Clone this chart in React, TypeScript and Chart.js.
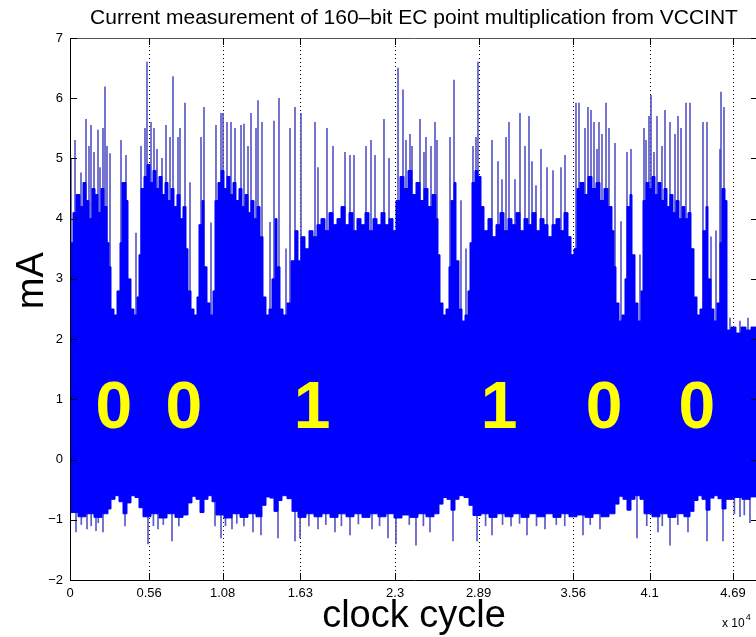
import React, { useEffect, useRef } from 'react';
import { Chart, registerables } from 'chart.js';

Chart.register(...registerables);

const FONT = "'Liberation Sans', Arial, Helvetica, sans-serif";

const TITLE = 'Current measurement of 160–bit EC point multiplication from VCCINT';
const X_LABEL = 'clock cycle';
const Y_LABEL = 'mA';
const X_EXPONENT = ['x 10', '4'];

const X_MAX = 48670;
const X_TICKS = [0, 5600, 10800, 16300, 23000, 28900, 35600, 41000, 46900];
const X_TICK_LABELS = ['0', '0.56', '1.08', '1.63', '2.3', '2.89', '3.56', '4.1', '4.69'];
const Y_TICKS = [-2, -1, 0, 1, 2, 3, 4, 5, 6, 7];
const Y_TICK_LABELS = ['−2', '−1', '0', '1', '2', '3', '4', '5', '6', '7'];

// upper edge of the dense current trace (clock cycle, mA)
const UPPER_ENVELOPE: [number, number][] = [
  [0, 3.6], [212, 4.1], [424, 4.4], [707, 4.2], [920, 4.6], [1132, 4.3], [1344, 4.0], [1556, 4.5], [1769, 4.4], [1981, 4.1], [2193, 4.5], [2405, 4.2], [2617, 3.6], [2759, 3.2],
  [2900, 2.5], [3113, 2.4], [3325, 2.8], [3537, 3.6], [3678, 4.6], [3961, 4.3], [4103, 3.0], [4315, 2.5], [4527, 2.4], [4740, 2.7], [4881, 3.4],
  [5023, 4.5], [5235, 4.7], [5447, 4.9], [5659, 4.6], [5871, 4.8], [6084, 4.5], [6296, 4.7], [6508, 4.4], [6720, 4.6], [6933, 4.3], [7145, 4.5], [7357, 4.2], [7569, 4.4], [7781, 4.0], [7994, 4.2], [8206, 3.5],
  [8347, 2.8], [8560, 2.5], [8772, 2.4], [8984, 2.7], [9125, 3.9], [9338, 4.3], [9479, 3.2], [9691, 2.6], [9904, 2.4], [10116, 2.8],
  [10257, 4.3], [10470, 4.6], [10682, 4.8], [10894, 4.5], [11106, 4.7], [11318, 4.4], [11531, 4.6], [11743, 4.3], [11955, 4.5], [12167, 4.2], [12380, 4.4], [12592, 4.1], [12804, 4.3], [13016, 4.0], [13228, 4.2], [13441, 3.7],
  [13653, 2.7], [13865, 2.4], [14077, 2.5], [14289, 3.0], [14502, 4.0], [14643, 3.2], [14855, 2.5], [15068, 2.4], [15351, 2.6], [15634, 3.3], [15917, 3.8], [16129, 3.3],
  [16341, 3.7], [16624, 3.5], [16907, 3.8], [17190, 3.7], [17473, 3.9], [17756, 4.0], [18039, 3.8], [18322, 4.1], [18605, 3.9], [18888, 4.0], [19171, 4.2], [19454, 3.9], [19737, 4.1], [20019, 3.8], [20302, 4.0], [20585, 3.9], [20868, 4.1], [21151, 3.8], [21434, 4.0], [21717, 3.9], [22000, 4.1], [22283, 3.9], [22566, 4.0], [22849, 3.8],
  [23061, 4.3], [23344, 4.7], [23627, 4.5], [23910, 4.8], [24193, 4.4], [24476, 4.6], [24759, 4.3], [25042, 4.5], [25325, 4.2], [25608, 4.4], [25891, 4.0], [26032, 3.4],
  [26174, 2.6], [26386, 2.4], [26598, 2.5], [26810, 3.2], [26952, 4.3], [27164, 4.6], [27306, 3.3], [27518, 2.5], [27730, 2.3], [27942, 2.4], [28155, 2.8], [28296, 3.6],
  [28437, 4.6], [28650, 4.8], [28862, 4.7], [29074, 4.2], [29286, 3.8], [29569, 4.0], [29852, 3.7], [30135, 3.9], [30418, 4.1], [30701, 3.8], [30984, 4.0], [31267, 3.9], [31550, 4.1], [31833, 3.8], [32116, 4.0], [32399, 3.9], [32682, 4.1], [32965, 3.8], [33248, 4.0], [33531, 3.9], [33814, 3.7], [34097, 3.9], [34380, 4.0], [34663, 3.8], [34946, 4.1], [35229, 3.7], [35441, 3.4], [35653, 3.5],
  [35865, 4.5], [36077, 4.6], [36360, 4.4], [36643, 4.7], [36926, 4.5], [37209, 4.6], [37492, 4.3], [37775, 4.5], [38058, 4.2], [38341, 3.8], [38483, 3.2],
  [38624, 2.6], [38836, 2.3], [39048, 2.4], [39261, 3.0], [39402, 4.2], [39614, 4.4], [39756, 3.4], [39968, 2.6], [40180, 2.3], [40393, 2.8],
  [40534, 4.3], [40746, 4.6], [40958, 4.5], [41171, 4.7], [41383, 4.4], [41595, 4.6], [41807, 4.3], [42020, 4.5], [42232, 4.2], [42444, 4.4], [42656, 4.1], [42868, 4.3], [43081, 4.0], [43293, 4.2], [43505, 4.0], [43717, 4.1], [43930, 3.5],
  [44142, 2.7], [44354, 2.4], [44566, 2.5], [44778, 3.8], [44991, 4.2], [45132, 3.0], [45344, 2.5], [45557, 2.3], [45769, 2.6], [45981, 3.6], [46122, 4.5], [46335, 4.3],
  [46476, 2.15], [46759, 2.2], [47113, 2.1], [47467, 2.2], [47820, 2.15], [48174, 2.2], [48670, 2.1],
];

// lower edge of the dense current trace (clock cycle, mA)
const LOWER_ENVELOPE: [number, number][] = [
  [0, -0.88], [566, -0.95], [1132, -0.9], [1698, -0.96], [2264, -0.9], [2688, -0.82], [2900, -0.66], [3183, -0.6], [3466, -0.7], [3749, -0.9], [4032, -0.72], [4315, -0.6], [4598, -0.63], [4881, -0.8],
  [5164, -0.95], [5730, -0.9], [6296, -0.97], [6862, -0.9], [7428, -0.96], [7994, -0.92], [8347, -0.72], [8630, -0.61], [8913, -0.66], [9196, -0.88], [9479, -0.66], [9762, -0.6], [10045, -0.7],
  [10328, -0.92], [10894, -0.97], [11460, -0.9], [12026, -0.96], [12592, -0.9], [13158, -0.95], [13582, -0.76], [13865, -0.62], [14148, -0.64], [14431, -0.86], [14714, -0.68], [14997, -0.6], [15351, -0.65], [15704, -0.86],
  [16129, -0.96], [16695, -0.9], [17261, -0.95], [17826, -0.9], [18392, -0.96], [18958, -0.9], [19524, -0.95], [20090, -0.9], [20656, -0.96], [21222, -0.9], [21788, -0.95], [22354, -0.9], [22920, -0.97], [23486, -0.92], [24052, -0.96], [24618, -0.9], [25183, -0.95], [25749, -0.9],
  [26103, -0.74], [26386, -0.63], [26669, -0.66], [26952, -0.84], [27235, -0.66], [27518, -0.6], [27872, -0.63], [28225, -0.76],
  [28508, -0.93], [29074, -0.9], [29640, -0.96], [30206, -0.9], [30772, -0.95], [31338, -0.9], [31904, -0.96], [32470, -0.9], [33036, -0.95], [33602, -0.9], [34167, -0.96], [34733, -0.9], [35299, -0.95], [35865, -0.92], [36431, -0.96], [36997, -0.9], [37563, -0.95], [38129, -0.9],
  [38553, -0.74], [38836, -0.61], [39119, -0.66], [39402, -0.84], [39685, -0.66], [39968, -0.6], [40322, -0.66],
  [40605, -0.9], [41171, -0.95], [41737, -0.9], [42303, -0.96], [42868, -0.9], [43434, -0.95], [43859, -0.86],
  [44142, -0.68], [44425, -0.6], [44708, -0.66], [44991, -0.84], [45274, -0.64], [45557, -0.6], [45840, -0.65], [46122, -0.82],
  [46405, -0.66], [46971, -0.63], [47537, -0.66], [48103, -0.62], [48670, -0.64],
];

// isolated upward current peaks (clock cycle, peak mA)
const PEAKS: [number, number][] = [
  [71, 5.0], [354, 5.3], [778, 4.76], [1132, 5.65], [1344, 5.2], [1486, 5.55], [1698, 5.1], [1981, 5.47], [2122, 4.85], [2334, 5.5], [2476, 6.19], [2617, 5.2], [2830, 5.08],
  [3608, 5.3], [3961, 5.05], [4669, 3.76], [5023, 5.2], [5306, 5.5], [5447, 6.6], [5730, 5.6], [5942, 5.5], [6154, 5.15], [6508, 5.0], [6791, 5.55], [7074, 5.35], [7286, 6.36], [7640, 5.35], [7781, 5.5], [8135, 5.92],
  [8489, 4.6], [9267, 5.35], [9479, 5.85], [9974, 3.93], [10328, 5.55], [10682, 5.75], [10823, 5.75], [11106, 5.6], [11389, 5.6], [11672, 5.5], [12097, 5.55], [12309, 5.57], [12592, 5.2], [12804, 5.75], [13158, 5.5], [13299, 5.96], [13582, 5.6],
  [14148, 3.94], [14431, 5.62], [14785, 6.0], [15280, 3.5], [15563, 5.5], [15917, 5.85], [16341, 5.75], [17331, 5.6], [17544, 4.85], [18180, 5.5], [18605, 5.2], [19454, 5.1], [19807, 5.05], [20090, 5.05], [20939, 5.2], [21293, 5.3], [21576, 5.05], [22212, 5.65], [22566, 5.0],
  [23203, 6.5], [23556, 6.14], [23769, 5.3], [24052, 5.4], [24193, 5.2], [24759, 5.65], [25042, 5.1], [25183, 5.35], [25537, 5.2], [25820, 5.6], [25962, 5.3], [26881, 5.35], [27164, 6.3], [27659, 4.3], [28013, 3.5],
  [28508, 5.2], [28720, 5.35], [28862, 6.6], [29852, 5.3], [30277, 4.95], [30560, 4.65], [30843, 5.35], [31055, 5.6], [31479, 4.65], [31833, 5.75], [32187, 5.2], [32470, 5.7], [32682, 4.95], [32965, 4.55], [33319, 5.15], [33743, 4.85], [34167, 4.8], [34733, 4.85], [35016, 5.05],
  [35794, 5.92], [36007, 5.92], [36431, 5.5], [36643, 5.85], [36856, 5.8], [37068, 5.6], [37280, 5.15], [37421, 5.6], [37634, 5.4], [37917, 5.92], [38129, 5.5], [38553, 5.25], [38978, 3.95], [39402, 5.1], [39685, 5.15], [40322, 3.4],
  [40605, 5.5], [40746, 5.3], [40958, 5.7], [41100, 6.05], [41312, 5.1], [41524, 5.7], [41878, 5.2], [42090, 5.8], [42444, 5.6], [42798, 5.4], [43010, 5.7], [43222, 5.5], [43576, 5.92], [43859, 5.92],
  [44778, 5.6], [45061, 5.6], [45344, 3.7], [45698, 3.8], [45981, 5.15], [46052, 6.1], [46264, 5.85], [46688, 2.35], [47396, 2.3], [47962, 2.35],
];

// isolated downward current dips (clock cycle, lowest mA)
const TROUGHS: [number, number][] = [
  [424, -1.2], [800, -1.08], [1203, -1.15], [1500, -1.1], [1839, -1.18], [2000, -1.05], [2334, -1.2], [3891, -1.1], [5518, -1.4], [5900, -1.1], [6225, -1.15], [6600, -1.08], [7216, -1.35], [7700, -1.1],
  [10257, -1.1], [10682, -1.3], [11000, -1.1], [11460, -1.15], [11800, -1.06], [12300, -1.1], [12945, -1.2], [13511, -1.25], [14714, -1.3], [15917, -1.35], [16270, -1.3], [16900, -1.1], [17544, -1.15],
  [18100, -1.08], [18746, -1.2], [19200, -1.1], [19807, -1.25], [20400, -1.07], [21364, -1.15], [21900, -1.1], [22495, -1.3], [23061, -1.4], [24000, -1.08], [24476, -1.42], [25000, -1.1], [25466, -1.2],
  [27093, -1.35], [28791, -1.35], [29400, -1.1], [29852, -1.25], [30600, -1.08], [31200, -1.1], [31800, -1.06], [32328, -1.25], [33000, -1.1], [33602, -1.15], [34400, -1.08], [35000, -1.1],
  [36290, -1.25], [36800, -1.08], [37492, -1.15], [40110, -1.3], [40800, -1.1], [41595, -1.2], [41900, -1.1], [42444, -1.42], [43000, -1.08], [43717, -1.2], [45061, -1.35], [46193, -1.35],
  [47000, -0.9], [47396, -0.95], [47700, -0.92], [48103, -1.05],
];

// key bits annotated over the trace
const BITS = ['0', '0', '1', '1', '0', '0'];
const BIT_X = [3110, 8060, 17120, 30350, 37780, 44350];
const BIT_BASELINE = 0.52;

const TRACE_BLUE = '#0000ff';
const PEAK_BLUE = 'rgba(60,60,190,0.85)';

export default function App() {
  const ref = useRef<HTMLCanvasElement>(null);

  useEffect(() => {
    const canvas = ref.current;
    if (!canvas) return;

    const frame = {
      id: 'matlabFrame',
      beforeDatasetsDraw(chart: any) {
        const { ctx, chartArea: a, scales } = chart;
        const x = scales.x;
        ctx.save();
        ctx.strokeStyle = '#000';
        ctx.lineWidth = 1;
        ctx.setLineDash([1, 3]);
        X_TICKS.slice(1).forEach((v) => {
          const px = Math.round(x.getPixelForValue(v)) + 0.5;
          ctx.beginPath();
          ctx.moveTo(px, a.top);
          ctx.lineTo(px, a.bottom);
          ctx.stroke();
        });
        ctx.restore();
      },
      afterDatasetsDraw(chart: any) {
        const { ctx, chartArea: a, scales } = chart;
        const x = scales.x;
        const y = scales.y;
        ctx.save();
        // axes box
        ctx.lineWidth = 1;
        ctx.strokeStyle = '#000';
        ctx.beginPath();
        ctx.moveTo(Math.round(a.left) + 0.5, Math.round(a.top) + 0.5);
        ctx.lineTo(Math.round(a.left) + 0.5, Math.round(a.bottom) + 0.5);
        ctx.lineTo(Math.round(a.right) + 0.5, Math.round(a.bottom) + 0.5);
        ctx.stroke();
        ctx.strokeStyle = '#555';
        ctx.beginPath();
        ctx.moveTo(Math.round(a.left) + 0.5, Math.round(a.top) + 0.5);
        ctx.lineTo(Math.round(a.right) + 0.5, Math.round(a.top) + 0.5);
        ctx.lineTo(Math.round(a.right) + 0.5, Math.round(a.bottom) + 0.5);
        ctx.stroke();
        // inward tick marks
        ctx.strokeStyle = '#000';
        const tl = 7;
        X_TICKS.forEach((v) => {
          const px = Math.round(x.getPixelForValue(v)) + 0.5;
          ctx.beginPath();
          ctx.moveTo(px, a.top);
          ctx.lineTo(px, a.top + tl);
          ctx.moveTo(px, a.bottom);
          ctx.lineTo(px, a.bottom - tl);
          ctx.stroke();
        });
        Y_TICKS.forEach((v) => {
          const py = Math.round(y.getPixelForValue(v)) + 0.5;
          ctx.beginPath();
          ctx.moveTo(a.left, py);
          ctx.lineTo(a.left + tl, py);
          ctx.moveTo(a.right, py);
          ctx.lineTo(a.right - tl, py);
          ctx.stroke();
        });
        // bit annotations
        ctx.fillStyle = '#ffff00';
        ctx.font = `bold 66px ${FONT}`;
        ctx.textAlign = 'center';
        ctx.textBaseline = 'alphabetic';
        BITS.forEach((b, i) => {
          ctx.fillText(b, x.getPixelForValue(BIT_X[i]), y.getPixelForValue(BIT_BASELINE));
        });
        // y axis label
        ctx.fillStyle = '#000';
        ctx.save();
        ctx.translate(33, y.getPixelForValue(2.97));
        ctx.rotate(-Math.PI / 2);
        ctx.font = `38px ${FONT}`;
        ctx.textAlign = 'center';
        ctx.textBaseline = 'middle';
        ctx.fillText(Y_LABEL, 0, 0);
        ctx.restore();
        // axis multiplier
        ctx.textAlign = 'left';
        ctx.font = `12px ${FONT}`;
        const ex = x.getPixelForValue(X_TICKS[X_TICKS.length - 1]) - 11;
        ctx.fillText(X_EXPONENT[0], ex, 627);
        const w = ctx.measureText(X_EXPONENT[0]).width;
        ctx.font = `9px ${FONT}`;
        ctx.fillText(X_EXPONENT[1], ex + w + 1, 620);
        ctx.restore();
      },
    };

    const chart = new Chart(canvas, {
      type: 'line',
      data: {
        datasets: [
          {
            type: 'line',
            label: 'lower',
            data: LOWER_ENVELOPE.map(([x, y]) => ({ x, y })),
            borderColor: TRACE_BLUE,
            borderWidth: 1,
            pointRadius: 0,
            stepped: true,
            fill: false,
            order: 1,
          },
          {
            type: 'line',
            label: 'upper',
            data: UPPER_ENVELOPE.map(([x, y]) => ({ x, y })),
            borderColor: TRACE_BLUE,
            backgroundColor: TRACE_BLUE,
            borderWidth: 1,
            pointRadius: 0,
            stepped: true,
            fill: '-1',
            order: 1,
          },
          {
            type: 'bar',
            label: 'peaks',
            data: PEAKS.map(([x, t]) => ({ x, y: [2.0, t] })),
            backgroundColor: PEAK_BLUE,
            barThickness: 1,
            grouped: false,
            order: 3,
          },
          {
            type: 'bar',
            label: 'troughs',
            data: TROUGHS.map(([x, b]) => ({ x, y: [b, -0.5] })),
            backgroundColor: PEAK_BLUE,
            barThickness: 1,
            grouped: false,
            order: 3,
          },
        ] as any,
      },
      options: {
        responsive: false,
        animation: false,
        devicePixelRatio: 1,
        events: [],
        layout: { padding: { left: 0, right: 4, top: 0, bottom: 0 } },
        plugins: {
          legend: { display: false },
          tooltip: { enabled: false },
          title: {
            display: true,
            text: TITLE,
            color: '#000',
            fullSize: false,
            font: { family: FONT, size: 21, weight: 'normal', lineHeight: 1.2 },
            padding: { top: 6, bottom: 6.8 },
          },
        },
        scales: {
          x: {
            type: 'linear',
            min: 0,
            max: X_MAX,
            offset: false,
            grid: { display: false, drawTicks: false },
            border: { display: false },
            afterBuildTicks: (s: any) => {
              s.ticks = X_TICKS.map((v) => ({ value: v }));
            },
            afterFit: (s: any) => {
              s.height = 57;
            },
            ticks: {
              autoSkip: false,
              maxRotation: 0,
              color: '#000',
              font: { family: FONT, size: 13 },
              padding: 6,
              callback: (_v: any, i: number) => X_TICK_LABELS[i],
            },
            title: {
              display: true,
              text: X_LABEL,
              color: '#000',
              font: { family: FONT, size: 38, lineHeight: 1 },
              padding: { top: 0, bottom: 1 },
            },
          },
          y: {
            type: 'linear',
            min: -2,
            max: 7,
            grid: { display: false, drawTicks: false },
            border: { display: false },
            afterBuildTicks: (s: any) => {
              s.ticks = Y_TICKS.map((v) => ({ value: v }));
            },
            afterFit: (s: any) => {
              s.width = 70;
            },
            ticks: {
              color: '#000',
              font: { family: FONT, size: 13 },
              padding: 7,
              callback: (_v: any, i: number) => Y_TICK_LABELS[i],
            },
            title: { display: false, text: Y_LABEL },
          },
        },
      } as any,
      plugins: [frame],
    });

    return () => chart.destroy();
  }, []);

  return (
    <div
      style={{
        position: 'absolute',
        left: 0,
        top: 0,
        width: 756,
        height: 637,
        overflow: 'hidden',
        background: '#fff',
      }}
    >
      <canvas ref={ref} width={762} height={637} style={{ display: 'block', width: 762, height: 637 }} />
    </div>
  );
}
